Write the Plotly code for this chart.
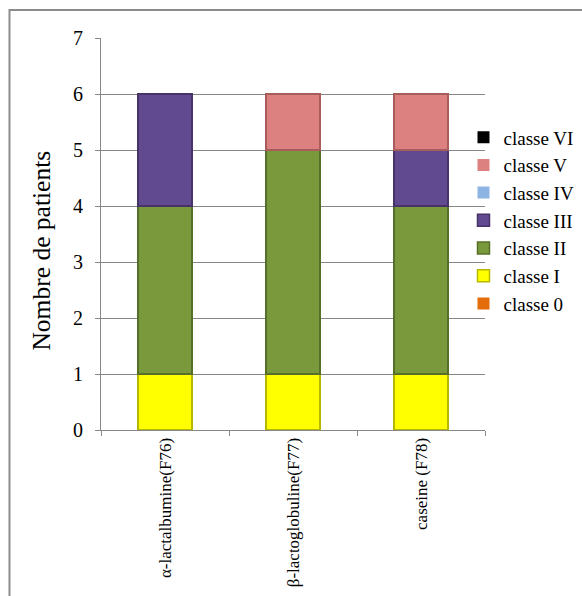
import plotly.graph_objects as go

# Allergen categories (x axis)
categories = ["α-lactalbumine(F76)", "β-lactoglobuline(F77)", "caseine (F78)"]

# Number of patients per class for each allergen
classe_0 = [0, 0, 0]
classe_I = [1, 1, 1]
classe_II = [3, 4, 3]
classe_III = [2, 0, 1]
classe_IV = [0, 0, 0]
classe_V = [0, 1, 1]
classe_VI = [0, 0, 0]

series = [
    ("classe 0", classe_0, "#E46C0A", "#A34C05"),
    ("classe I", classe_I, "#FFFF00", "#B8B800"),
    ("classe II", classe_II, "#7A983C", "#56702A"),
    ("classe III", classe_III, "#624A90", "#45336A"),
    ("classe IV", classe_IV, "#8EB4E3", "#5F85B5"),
    ("classe V", classe_V, "#DC8080", "#A85C5C"),
    ("classe VI", classe_VI, "#000000", "#333333"),
]

FONT = "Liberation Serif"
GRID = "#878787"

fig = go.Figure()
n = len(series)
for i, (name, vals, color, edge) in enumerate(series):
    fig.add_trace(go.Bar(
        x=categories, y=vals, name=name, legendgroup=name,
        legendrank=n - i,  # highest class listed first
        marker=dict(
            color=color,
            # no outline on empty segments so they leave no stray line
            line=dict(color=edge, width=[1.5 if v else 0 for v in vals]),
        ),
    ))

fig.update_layout(
    width=582, height=596,
    margin=dict(l=101, r=97, t=38, b=166, autoexpand=False),
    barmode="stack", bargap=0.58,
    plot_bgcolor="white", paper_bgcolor="white",
    font=dict(family=FONT, color="black"),
    showlegend=True,
    legend=dict(
        x=0.944, xanchor="left", y=0.795, yanchor="top",
        traceorder="grouped", tracegroupgap=0,
        font=dict(family=FONT, size=19, color="black"),
        bgcolor="rgba(0,0,0,0)", itemwidth=30,
    ),
    xaxis=dict(
        showline=True, linecolor=GRID, linewidth=1.2,
        ticks="outside", tickson="boundaries", ticklen=5, tickcolor=GRID,
        tickangle=-90, tickfont=dict(family=FONT, size=17),
        showgrid=False,
    ),
    yaxis=dict(
        range=[0, 7], dtick=1, showline=True, linecolor=GRID, linewidth=1.2,
        ticks="outside", ticklen=5, tickcolor=GRID,
        showgrid=True, gridcolor=GRID, gridwidth=1.2,
        tickfont=dict(family=FONT, size=20), ticklabelstandoff=8,
        zeroline=False,
    ),
    annotations=[dict(
        text="Nombre de patients", textangle=-90,
        xref="paper", yref="paper", x=-0.155, y=0.459,
        xanchor="center", yanchor="middle", showarrow=False,
        font=dict(family=FONT, size=25.5, color="black"),
    )],
    shapes=[dict(
        type="rect", xref="paper", yref="paper",
        x0=-0.2383, x1=1.6, y0=1.0714, y1=-1.0,
        line=dict(color="#8C8C8C", width=2), layer="below",
    )],
)

fig.write_html("out.html")
